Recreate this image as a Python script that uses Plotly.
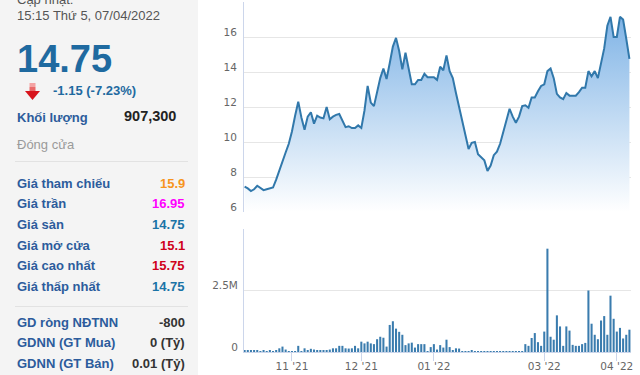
import pandas as pd
import plotly.graph_objects as go

W, H = 640, 375

# ---------------- data ----------------
holidays = ["2022-01-03", "2022-01-31", "2022-02-01", "2022-02-02", "2022-02-03", "2022-02-04"]
trade_days = [d.strftime("%Y-%m-%d") for d in pd.bdate_range("2021-10-11", "2022-04-07")
              if d.strftime("%Y-%m-%d") not in holidays]

close_price = [
    7.45, 7.35, 7.2, 7.3, 7.5, 7.35, 7.25, 7.3, 7.33, 7.4,
    7.85, 8.4, 8.9, 9.4, 9.9, 10.6, 11.5, 12.3, 11.4, 10.7,
    11.45, 11.7, 11.05, 11.5, 11.4, 11.35, 12.0, 11.3, 11.45, 11.55,
    11.6, 11.2, 10.85, 10.9, 10.8, 10.8, 10.95, 10.8, 11.8, 13.2,
    12.25, 12.05, 12.9, 13.65, 14.2, 13.6, 14.5, 15.45, 15.95, 15.2,
    14.15, 15.1, 14.2, 13.3, 13.3, 13.55, 13.55, 13.9, 13.7, 13.7,
    13.7, 13.55, 14.3, 14.1, 14.95, 14.05, 13.65, 12.8, 12.0, 11.3,
    10.4, 9.6, 9.95, 10.0, 9.3, 9.1, 8.95, 8.35, 8.65, 9.25,
    9.45, 9.9, 10.6, 11.3, 11.9, 11.45, 11.1, 11.45, 12.05, 12.1,
    11.95, 12.55, 12.55, 12.9, 13.2, 13.3, 14.05, 14.2, 13.65, 12.75,
    12.55, 12.45, 12.8, 12.65, 12.65, 12.65, 12.85, 13.1, 13.1, 14.05,
    13.75, 14.05, 13.65, 14.6, 15.35, 16.65, 17.15, 16.0, 16.0, 17.15,
    17.0, 15.9, 14.75,
]

volume_m = [
    0.07, 0.06, 0.08, 0.06, 0.05, 0.04, 0.06, 0.03, 0.05, 0.04,
    0.05, 0.15, 0.22, 0.1, 0.02, 0.02, 0.03, 0.25, 0.04, 0.15,
    0.08, 0.13, 0.1, 0.08, 0.08, 0.07, 0.06, 0.1, 0.15, 0.15,
    0.25, 0.25, 0.15, 0.14, 0.15, 0.25, 0.15, 0.42, 0.35, 0.42,
    0.35, 0.32, 0.52, 0.62, 0.58, 0.22, 1.1, 1.25, 0.95, 0.82,
    0.7, 0.28, 0.35, 0.38, 0.18, 0.32, 0.32, 0.32, 0.04, 0.2,
    0.32, 0.1, 0.28, 0.18, 0.5, 0.2, 0.07, 0.15, 0.14, 0.04,
    0.02, 0.02, 0.07, 0.02, 0.02, 0.04, 0.01, 0.01, 0.01, 0.02,
    0.02, 0.04, 0.04, 0.04, 0.02, 0.04, 0.04, 0.01, 0.02, 0.32,
    0.25, 0.57, 0.77, 0.4, 0.25, 0.83, 4.2, 0.62, 0.5, 1.49,
    1.04, 0.25, 1.04, 0.87, 0.29, 0.25, 0.25, 0.32, 0.37, 2.5,
    1.15, 0.7, 0.52, 1.28, 1.46, 0.7, 2.29, 1.35, 0.83, 0.98,
    0.55, 0.7, 0.907,
]

month_ticks = ["2021-11-01", "2021-12-01", "2022-01-04", "2022-03-01", "2022-04-01"]
month_labels = ["11 '21", "12 '21", "01 '22", "03 '22", "04 '22"]

price_ticks = [6, 8, 10, 12, 14, 16, 18]
price_tick_labels = ["6", "8", "10", "12", "14", "16", ""]
vol_ticks = [0, 2.5, 5]
vol_tick_labels = ["0", "2.5M", ""]

update_label = "Cập nhật:"
update_time = "15:15 Thứ 5, 07/04/2022"
last_price = "14.75"
change_text = "-1.15 (-7.23%)"
volume_label = "Khối lượng"
volume_value = "907,300"
status_text = "Đóng cửa"
price_rows = [
    ("Giá tham chiếu", "15.9"),
    ("Giá trần", "16.95"),
    ("Giá sàn", "14.75"),
    ("Giá mở cửa", "15.1"),
    ("Giá cao nhất", "15.75"),
    ("Giá thấp nhất", "14.75"),
]
foreign_rows = [
    ("GD ròng NĐTNN", "-800"),
    ("GDNN (GT Mua)", "0 (Tỷ)"),
    ("GDNN (GT Bán)", "0.01 (Tỷ)"),
]

# ---------------- styles ----------------
price_row_colors = ["#f7941d", "#ff00ff", "#1a73a6", "#d0021b", "#d0021b", "#1a73a6"]
price_row_y = [183, 203.5, 224, 245, 265.5, 286]
foreign_row_y = [322, 342.5, 363.5]
LABEL_BLUE = "#2c5c9c"
AX = "#ccd6eb"
GRID = "#e6e6e6"
TICKFONT = dict(family="DejaVu Sans", size=10.5, color="#666666")
PANEL_FONT = "Arial, Liberation Sans, sans-serif"


def px(x):
    return x / W


def py(y):
    return 1 - y / H


fig = go.Figure()

fig.add_trace(go.Scatter(
    x=trade_days, y=close_price, mode="lines",
    line=dict(color="#3178ab", width=2),
    fill="tozeroy",
    fillgradient=dict(type="vertical", start=6, stop=18,
                      colorscale=[[0, "rgba(255,255,255,1)"], [1, "rgba(118,174,228,1)"]]),
    xaxis="x2", yaxis="y2", hoverinfo="skip", showlegend=False,
))

fig.add_trace(go.Bar(
    x=trade_days, y=volume_m, marker=dict(color="#3a7cae", line=dict(width=0)),
    xaxis="x", yaxis="y", hoverinfo="skip", showlegend=False,
))

x_dom = [px(244), px(631)]
x_range = [-0.2, len(trade_days) - 0.5]

fig.update_layout(
    width=W, height=H,
    margin=dict(l=0, r=0, t=0, b=0, autoexpand=False),
    paper_bgcolor="#f4f4f4",
    plot_bgcolor="rgba(0,0,0,0)",
    bargap=0.35,
    xaxis=dict(
        domain=x_dom, type="category", range=x_range, automargin=False,
        tickmode="array", tickvals=month_ticks, ticktext=month_labels,
        ticks="outside", ticklen=8, tickcolor=AX, tickwidth=1,
        showline=True, linecolor=AX, linewidth=1,
        showgrid=False, tickfont=TICKFONT, ticklabelstandoff=-4,
        anchor="y", fixedrange=True,
    ),
    yaxis=dict(
        domain=[py(352), py(229)], range=[0, 5], automargin=False,
        tickmode="array", tickvals=vol_ticks, ticktext=vol_tick_labels,
        showgrid=True, gridcolor=GRID, gridwidth=1, zeroline=False,
        showline=True, linecolor=AX, linewidth=1,
        tickfont=TICKFONT, ticklabelshift=-5, ticklabelstandoff=3,
        anchor="x", fixedrange=True,
    ),
    xaxis2=dict(
        domain=x_dom, type="category", range=x_range, matches="x", automargin=False,
        showticklabels=False, ticks="", showgrid=False, showline=False,
        anchor="y2", fixedrange=True,
    ),
    yaxis2=dict(
        domain=[py(212), py(2)], range=[6, 18], automargin=False,
        tickmode="array", tickvals=price_ticks, ticktext=price_tick_labels,
        showgrid=True, gridcolor=GRID, gridwidth=1, zeroline=False,
        showline=True, linecolor=AX, linewidth=1,
        tickfont=TICKFONT, ticklabelshift=-5, ticklabelstandoff=4,
        anchor="x2", fixedrange=True,
    ),
)

shapes = []
# white chart panel
shapes.append(dict(type="rect", xref="paper", yref="paper", x0=px(198), x1=1, y0=0, y1=1,
                   fillcolor="#ffffff", line=dict(width=0), layer="below"))
# separators in left panel
for yy in (161.5, 306.5):
    shapes.append(dict(type="line", xref="paper", yref="paper", x0=px(15), x1=px(188),
                       y0=py(yy), y1=py(yy), line=dict(color="#e2e2e2", width=1)))


def path(points):
    return "M " + " L ".join(f"{px(a):.5f},{py(b):.5f}" for a, b in points) + " Z"


# down arrow icon
shapes.append(dict(type="path", xref="paper", yref="paper",
                   path=path([(29.5, 83), (35.5, 83), (35.5, 87), (29.5, 87)]),
                   fillcolor="#f4a3a3", line=dict(width=0)))
shapes.append(dict(type="path", xref="paper", yref="paper",
                   path=path([(29.5, 87), (35.5, 87), (35.5, 91), (29.5, 91)]),
                   fillcolor="#ea6a6a", line=dict(width=0)))
shapes.append(dict(type="path", xref="paper", yref="paper",
                   path=path([(25, 91), (40, 91), (32.5, 100)]),
                   fillcolor="#d8141c", line=dict(width=0)))
fig.update_layout(shapes=shapes)

ann = []


def text(x, y, s, size=13, color="#333", bold=False, anchor="left", family=PANEL_FONT):
    ann.append(dict(xref="paper", yref="paper", x=px(x), y=py(y), text=(f"<b>{s}</b>" if bold else s),
                    showarrow=False, xanchor=anchor, yanchor="middle",
                    font=dict(family=family, size=size, color=color)))


text(15, -1, update_label, 13, "#555555")
text(15, 15, update_time, 13, "#555555")
text(15, 58.5, last_price, 38, "#1f6aa0", bold=True)
text(51, 90.5, change_text, 13, "#1f6aa0", bold=True)
text(15, 117, volume_label, 13, LABEL_BLUE, bold=True)
text(178, 115.5, volume_value, 14.5, "#222222", bold=True, anchor="right")
text(15, 144.5, status_text, 13, "#9a9a9a")
for (lab, val), col, yy in zip(price_rows, price_row_colors, price_row_y):
    text(15, yy, lab, 13, LABEL_BLUE, bold=True)
    text(187, yy, val, 13, col, bold=True, anchor="right")
for (lab, val), yy in zip(foreign_rows, foreign_row_y):
    text(15, yy, lab, 13, LABEL_BLUE, bold=True)
    text(187, yy, val, 13, "#333333", bold=True, anchor="right")

fig.update_layout(annotations=ann)

fig.write_html("out.html", include_plotlyjs=True, config={"displayModeBar": False})
